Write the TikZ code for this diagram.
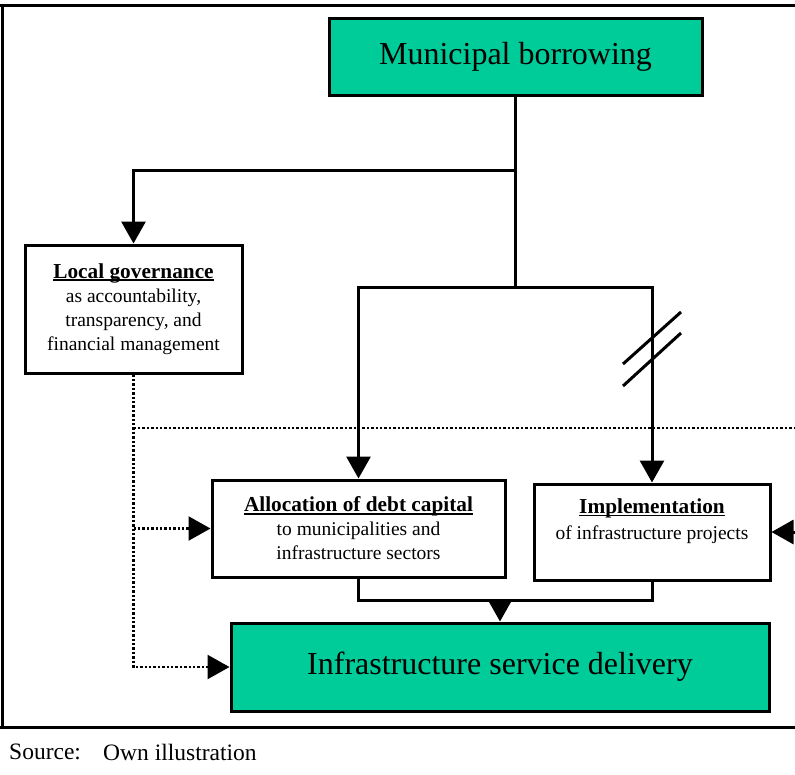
\documentclass[tikz,border=0pt]{standalone}
\usepackage{fontspec}
\setmainfont{Liberation Serif}
\usetikzlibrary{arrows.meta}
\definecolor{boxGreen}{RGB}{0,204,153}
\colorlet{frameColor}{black}
\newcommand{\boxHead}[1]{{\fontsize{21.3}{24}\selectfont\setbox0\hbox{\textbf{#1}}\rlap{\rule[-3pt]{\wd0}{1.8pt}}\box0}}
\tikzstyle{plainLine}=[line width=3pt]
\tikzstyle{flowLine}=[plainLine,-{Triangle[length=22pt,width=24pt]}]
\tikzstyle{dotLine}=[line width=2.4pt,dotted]
\tikzstyle{dotFlow}=[dotLine,-{Triangle[length=22pt,width=24pt]}]
\tikzstyle{whiteBox}=[draw,line width=3pt,fill=white,align=center,inner sep=0pt,font=\fontsize{19.5}{24}\selectfont]
\tikzstyle{greenBox}=[draw,line width=3pt,fill=boxGreen,inner sep=0pt,font=\fontsize{32}{38}\selectfont]
\tikzstyle{sourceText}=[anchor=west,inner sep=0pt,font=\fontsize{23.5}{28}\selectfont]

\begin{document}
\begin{tikzpicture}[x=1pt,y=-1pt]
\useasboundingbox (0,0) rectangle (795,774);
        \draw [frameColor,line width=3pt] (0,5) -- (795,5);
        \draw [frameColor,line width=3pt] (2,5) -- (2,727);
        \draw [frameColor,line width=3pt] (0,727) -- (795,727);

        \node[greenBox,minimum width=373pt,minimum height=77pt] (borrow) at (515.5,56.5) {Municipal borrowing};
        \node[whiteBox,minimum width=217pt,minimum height=128pt] (govern) at (133.5,309)
                {\boxHead{Local governance}\\as accountability,\\transparency, and\\financial management};
        \node[whiteBox,minimum width=293pt,minimum height=97pt] (alloc) at (358.5,528.5)
                {\boxHead{Allocation of debt capital}\\to municipalities and\\infrastructure sectors};
        \node[whiteBox,minimum width=236pt,minimum height=96pt] (impl) at (652,532)
                {\boxHead{Implementation}\\[2pt]of infrastructure projects\\[2pt]};
        \node[greenBox,minimum width=538pt,minimum height=88pt] (deliver) at (500,667) {Infrastructure service delivery};

        \coordinate (split) at (515.5,170);
        \coordinate (fork) at (515.5,287);
        \coordinate (merge) at (500,600);
        \coordinate (rightIn) at (797,532);
        \coordinate (tapAlloc) at (govern.south |- alloc.west);
        \coordinate (tapLine) at (133.5,428);
        \coordinate (dotEnd) at (795,428);

        \draw [flowLine] (borrow.south) -- (split) -| (govern.north);
        \draw [flowLine] (split) -- (fork) -| (alloc.north);
        \draw [flowLine] (fork) -| (impl.north);
        \draw [plainLine] (623,364) -- (681,312);
        \draw [plainLine] (623,386) -- (681,333);

        \draw [dotLine] (tapLine) -- (dotEnd);
        \draw [dotFlow] (govern.south) |- (deliver.west);
        \draw [dotFlow] (tapAlloc) -- (alloc.west);
        \draw [flowLine] (rightIn) -- (impl.east);

        \draw [plainLine] (alloc.south) |- (merge);
        \draw [plainLine] (impl.south) |- (merge);
        \draw [flowLine] (merge) -- (deliver.north);

        \node[sourceText] (srcLabel) at (9,752) {Source:};
        \node[sourceText] (srcText) at (103,752) {Own illustration};
\end{tikzpicture}
\end{document}
